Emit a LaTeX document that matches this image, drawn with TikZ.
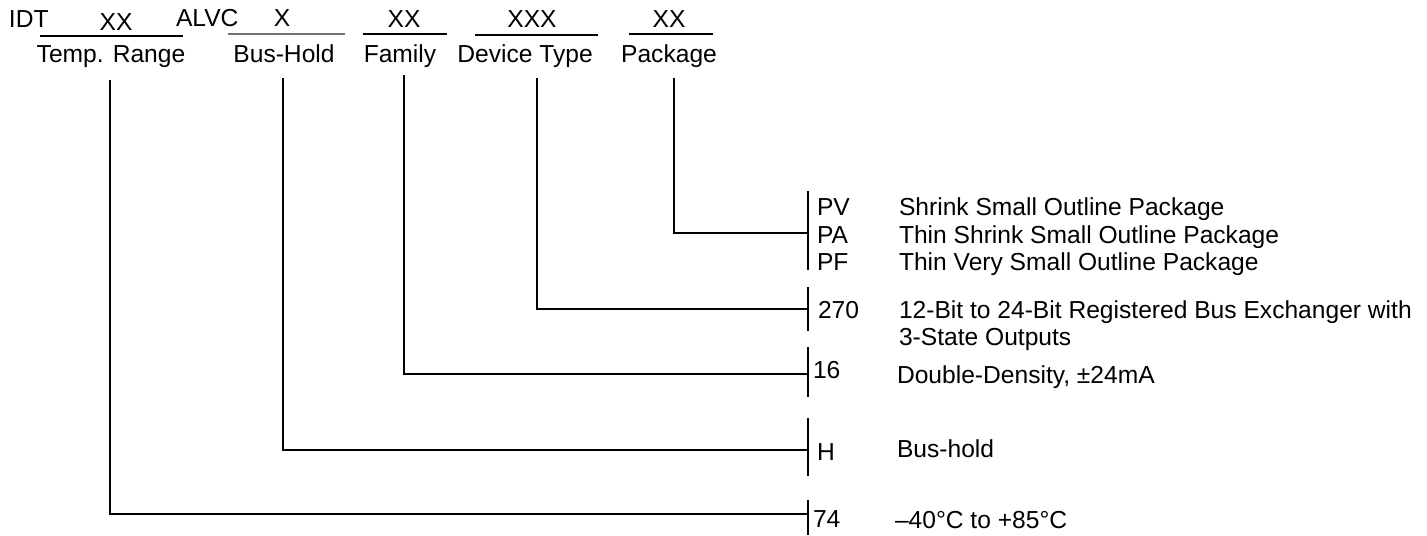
\documentclass[tikz,border=0pt]{standalone}
\usepackage{fontspec}
\setmainfont{Liberation Sans}
\begin{document}
\begin{tikzpicture}[x=0.5pt,y=-0.5pt,
  txt/.style={inner sep=0pt,outer sep=0pt,font=\fontsize{12.3}{14}\selectfont},
  lbl/.style={txt,anchor=base},
  lft/.style={txt,anchor=base west},
  ln/.style={line width=0.75pt,black},
  thk/.style={line width=1.3pt,black}]
\useasboundingbox (0,0) rectangle (1427,535);
% header
\node[lft] (idt) at (9,28) {IDT};
\node[lbl] (xxT) at (116,31) {XX};
\node[lft] (alvc) at (176,27) {ALVC};
\node[lbl] (xB) at (282,27) {X};
\node[lbl] (xxF) at (404,28) {XX};
\node[lbl] (xxD) at (532,28) {XXX};
\node[lbl] (xxP) at (669,28) {XX};
\coordinate (uT1) at (40,36);  \coordinate (uT2) at (183,36);
\coordinate (uB1) at (228,34); \coordinate (uB2) at (345,34);
\coordinate (uF1) at (363,34); \coordinate (uF2) at (447,34);
\coordinate (uD1) at (475,35); \coordinate (uD2) at (598,35);
\coordinate (uP1) at (629,34); \coordinate (uP2) at (713,34);
\draw[ln] (uT1) -- (uT2);
\draw[line width=0.75pt,black!55] (uB1) -- (uB2);
\draw[thk] (uF1) -- (uF2);
\draw[ln] (uD1) -- (uD2);
\draw[ln] (uP1) -- (uP2);
\node[lbl] (lT) at (111,63) {Temp. Range};
\node[lbl] (lB) at (284,63) {Bus-Hold};
\node[lbl] (lF) at (400,63) {Family};
\node[lbl] (lD) at (525,63) {Device Type};
\node[lbl] (lP) at (669,63) {Package};
% vertical drop tops
\coordinate (tT) at (110,80);
\coordinate (tB) at (283,78);
\coordinate (tF) at (404,75);
\coordinate (tD) at (537,78);
\coordinate (tP) at (674,78);
% right bars
\coordinate (bP1) at (808,191); \coordinate (bP2) at (808,270); \coordinate (jP) at (808,233);
\coordinate (bD1) at (808,287); \coordinate (bD2) at (808,331); \coordinate (jD) at (808,309);
\coordinate (bF1) at (808,347); \coordinate (bF2) at (808,397); \coordinate (jF) at (808,374);
\coordinate (bB1) at (808,418); \coordinate (bB2) at (808,476); \coordinate (jB) at (808,450);
\coordinate (bT1) at (808,500); \coordinate (bT2) at (808,535); \coordinate (jT) at (808,514);
\draw[ln] (bP1) -- (bP2);
\draw[ln] (bD1) -- (bD2);
\draw[thk] (bF1) -- (bF2);
\draw[ln] (bB1) -- (bB2);
\draw[ln] (bT1) -- (bT2);
% connectors
\draw[ln] (tP) |- (jP);
\draw[ln] (tD) |- (jD);
\draw[thk] (tF) |- (jF);
\draw[ln] (tB) |- (jB);
\draw[ln] (tT) |- (jT);
% right column text
\node[lft] (cPV) at (817,215) {PV};
\node[lft] (cPA) at (817,243) {PA};
\node[lft] (cPF) at (817,270) {PF};
\node[lft] (dPV) at (899,215) {Shrink Small Outline Package};
\node[lft] (dPA) at (899,243) {Thin Shrink Small Outline Package};
\node[lft] (dPF) at (899,270) {Thin Very Small Outline Package};
\node[lft] (c270) at (818,318) {270};
\node[lft] (d270a) at (899,318) {12-Bit to 24-Bit Registered Bus Exchanger with};
\node[lft] (d270b) at (899,345) {3-State Outputs};
\node[lft] (c16) at (813,378) {16};
\node[lft] (d16) at (897,383) {Double-Density, ±24mA};
\node[lft] (cH) at (817,460) {H};
\node[lft] (dH) at (897,457) {Bus-hold};
\node[lft] (c74) at (813,527) {74};
\node[lft] (d74) at (895,528) {–40°C to +85°C};
\end{tikzpicture}
\end{document}
